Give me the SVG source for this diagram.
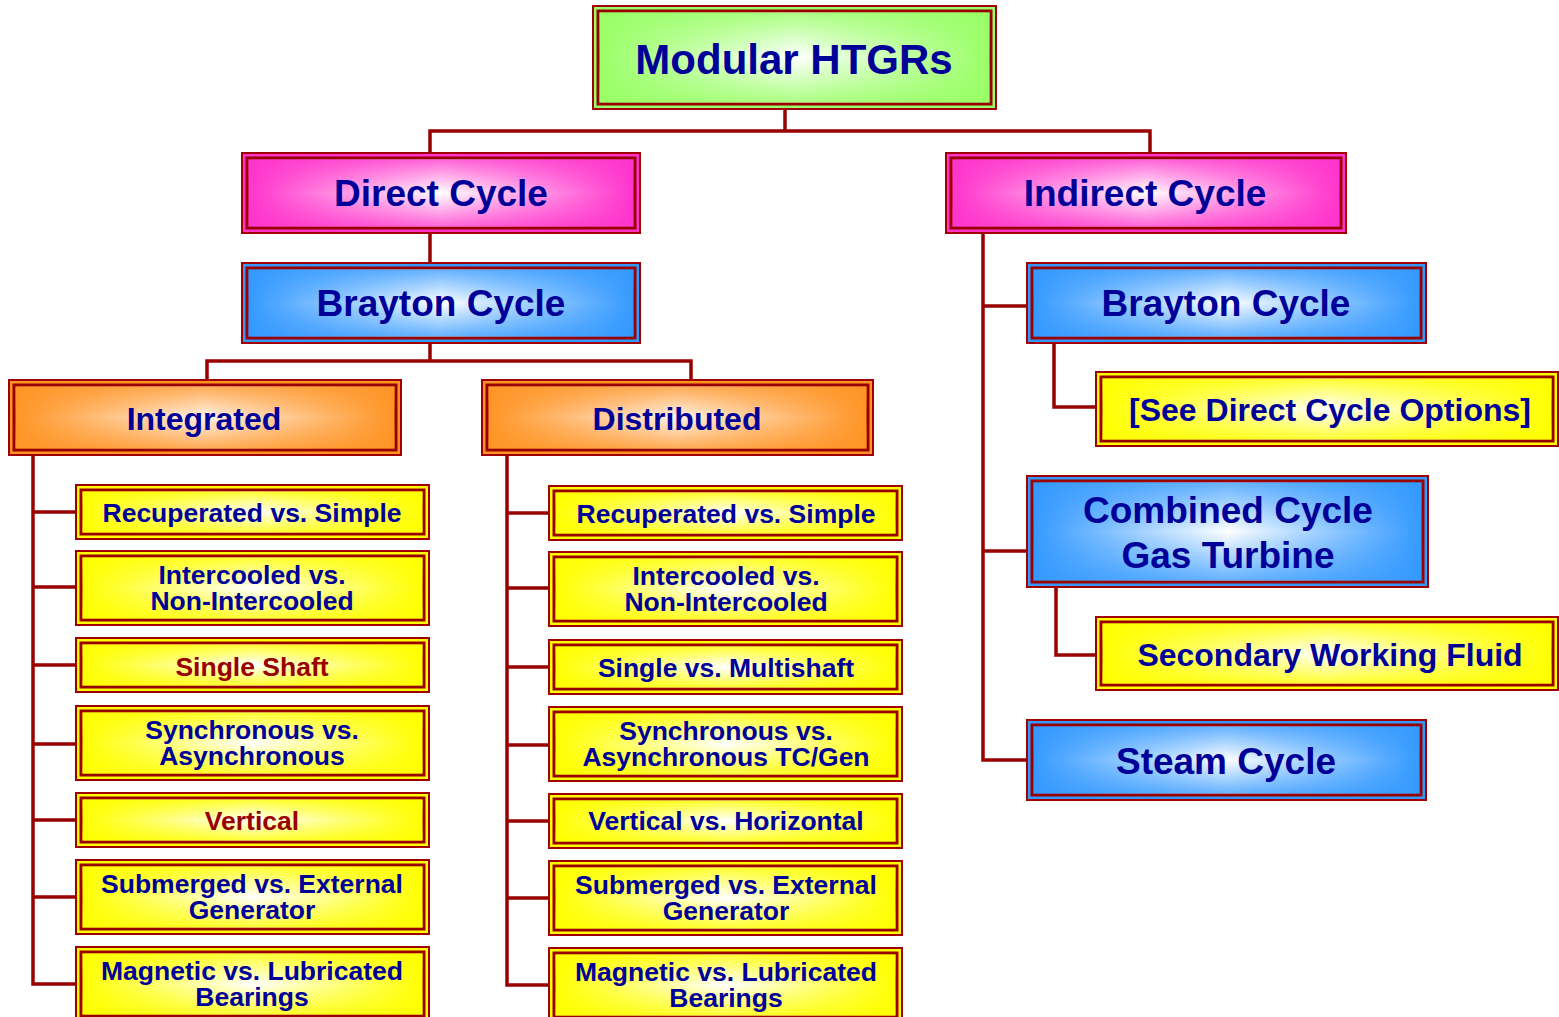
<svg xmlns="http://www.w3.org/2000/svg" width="1559" height="1017" viewBox="0 0 1559 1017">
<defs>
<linearGradient id="hGreen" x1="0" y1="0" x2="1" y2="0"><stop offset="0" stop-color="#99FF66"/><stop offset="0.5" stop-color="#FFFFFF"/><stop offset="1" stop-color="#99FF66"/></linearGradient>
<linearGradient id="vGreen" x1="0" y1="0" x2="0" y2="1"><stop offset="0" stop-color="#99FF66" stop-opacity="0.8"/><stop offset="0.5" stop-color="#99FF66" stop-opacity="0"/><stop offset="1" stop-color="#99FF66" stop-opacity="0.8"/></linearGradient>
<linearGradient id="hPink" x1="0" y1="0" x2="1" y2="0"><stop offset="0" stop-color="#FF33CC"/><stop offset="0.5" stop-color="#FFFFFF"/><stop offset="1" stop-color="#FF33CC"/></linearGradient>
<linearGradient id="vPink" x1="0" y1="0" x2="0" y2="1"><stop offset="0" stop-color="#FF33CC" stop-opacity="0.75"/><stop offset="0.5" stop-color="#FF33CC" stop-opacity="0"/><stop offset="1" stop-color="#FF33CC" stop-opacity="0.75"/></linearGradient>
<linearGradient id="hBlue" x1="0" y1="0" x2="1" y2="0"><stop offset="0" stop-color="#3399FF"/><stop offset="0.5" stop-color="#FFFFFF"/><stop offset="1" stop-color="#3399FF"/></linearGradient>
<linearGradient id="vBlue" x1="0" y1="0" x2="0" y2="1"><stop offset="0" stop-color="#3399FF" stop-opacity="0.75"/><stop offset="0.5" stop-color="#3399FF" stop-opacity="0"/><stop offset="1" stop-color="#3399FF" stop-opacity="0.75"/></linearGradient>
<linearGradient id="hOrange" x1="0" y1="0" x2="1" y2="0"><stop offset="0" stop-color="#FF9424"/><stop offset="0.5" stop-color="#FFF4EA"/><stop offset="1" stop-color="#FF9424"/></linearGradient>
<linearGradient id="vOrange" x1="0" y1="0" x2="0" y2="1"><stop offset="0" stop-color="#FF9424" stop-opacity="0.75"/><stop offset="0.5" stop-color="#FF9424" stop-opacity="0"/><stop offset="1" stop-color="#FF9424" stop-opacity="0.75"/></linearGradient>
<linearGradient id="hYellow" x1="0" y1="0" x2="1" y2="0"><stop offset="0" stop-color="#FFFF00"/><stop offset="0.5" stop-color="#FFFFFF"/><stop offset="1" stop-color="#FFFF00"/></linearGradient>
<linearGradient id="vYellow" x1="0" y1="0" x2="0" y2="1"><stop offset="0" stop-color="#FFFF00" stop-opacity="0.8"/><stop offset="0.5" stop-color="#FFFF00" stop-opacity="0"/><stop offset="1" stop-color="#FFFF00" stop-opacity="0.8"/></linearGradient>
</defs>
<style>
.outer{stroke:#A00000;stroke-width:2}
.inner{stroke:#990000;stroke-width:3}
.ov{stroke:none}
.green .outer{fill:#99FF66}.green .inner{fill:url(#hGreen)}.green .ov{fill:url(#vGreen)}
.pink .outer{fill:#FF33CC}.pink .inner{fill:url(#hPink)}.pink .ov{fill:url(#vPink)}
.blue .outer{fill:#3399FF}.blue .inner{fill:url(#hBlue)}.blue .ov{fill:url(#vBlue)}
.orange .outer{fill:#FF9424}.orange .inner{fill:url(#hOrange)}.orange .ov{fill:url(#vOrange)}
.yellow .outer{fill:#FFFF00}.yellow .inner{fill:url(#hYellow)}.yellow .ov{fill:url(#vYellow)}
text{font-family:"Liberation Sans",Arial,sans-serif;font-weight:bold;fill:#000099;text-anchor:middle}
.t42{font-size:42px}.t37{font-size:37px}.t32{font-size:32px}.t26{font-size:26.5px}
text.red{fill:#990000}
.conn{stroke:#990000;stroke-width:3.5;fill:none;stroke-linecap:square;stroke-linejoin:miter}
</style>
<g id="connectors" class="conn">
<path d="M785,109 V131 M430,153 V131 H1150 V153"/>
<path d="M430,233 V263"/>
<path d="M430,343 V361 M207,380 V361 H691 V380"/>
<path d="M33,455 V984 M33,512 H76 M33,587 H76 M33,665 H76 M33,744 H76 M33,820 H76 M33,897 H76 M33,984 H76"/>
<path d="M507,455 V985 M507,513 H549 M507,588 H549 M507,667 H549 M507,745 H549 M507,821 H549 M507,898 H549 M507,985 H549"/>
<path d="M983,233 V760 H1027 M983,306 H1027 M983,551 H1027"/>
<path d="M1054,343 V407 H1096"/>
<path d="M1056,587 V655 H1096"/>
</g>
<g id="modular-htgrs" class="green"><rect class="outer" x="593" y="6" width="403" height="103"/><rect class="inner" x="598" y="11" width="393" height="93"/><rect class="ov" x="599.5" y="12.5" width="390" height="90"/><text class="t42" x="794" y="74">Modular HTGRs</text></g>
<g id="direct-cycle" class="pink"><rect class="outer" x="242" y="153" width="398" height="80"/><rect class="inner" x="247" y="158" width="388" height="70"/><rect class="ov" x="248.5" y="159.5" width="385" height="67"/><text class="t37" x="441" y="206">Direct Cycle</text></g>
<g id="indirect-cycle" class="pink"><rect class="outer" x="946" y="153" width="400" height="80"/><rect class="inner" x="951" y="158" width="390" height="70"/><rect class="ov" x="952.5" y="159.5" width="387" height="67"/><text class="t37" x="1145" y="206">Indirect Cycle</text></g>
<g id="brayton-direct" class="blue"><rect class="outer" x="242" y="263" width="398" height="80"/><rect class="inner" x="247" y="268" width="388" height="70"/><rect class="ov" x="248.5" y="269.5" width="385" height="67"/><text class="t37" x="441" y="316">Brayton Cycle</text></g>
<g id="brayton-indirect" class="blue"><rect class="outer" x="1027" y="263" width="399" height="80"/><rect class="inner" x="1032" y="268" width="389" height="70"/><rect class="ov" x="1033.5" y="269.5" width="386" height="67"/><text class="t37" x="1226" y="316">Brayton Cycle</text></g>
<g id="integrated" class="orange"><rect class="outer" x="9" y="380" width="392" height="75"/><rect class="inner" x="14" y="385" width="382" height="65"/><rect class="ov" x="15.5" y="386.5" width="379" height="62"/><text class="t32" x="204" y="430">Integrated</text></g>
<g id="distributed" class="orange"><rect class="outer" x="482" y="380" width="391" height="75"/><rect class="inner" x="487" y="385" width="381" height="65"/><rect class="ov" x="488.5" y="386.5" width="378" height="62"/><text class="t32" x="677" y="430">Distributed</text></g>
<g id="i-recuperated" class="yellow"><rect class="outer" x="76" y="485" width="353" height="54"/><rect class="inner" x="81" y="490" width="343" height="44"/><rect class="ov" x="82.5" y="491.5" width="340" height="41"/><text class="t26" x="252" y="522">Recuperated vs. Simple</text></g>
<g id="i-intercooled" class="yellow"><rect class="outer" x="76" y="551" width="353" height="74"/><rect class="inner" x="81" y="556" width="343" height="64"/><rect class="ov" x="82.5" y="557.5" width="340" height="61"/><text class="t26" x="252" y="584">Intercooled vs.<tspan x="252" dy="26">Non-Intercooled</tspan></text></g>
<g id="i-single-shaft" class="yellow"><rect class="outer" x="76" y="638" width="353" height="54"/><rect class="inner" x="81" y="643" width="343" height="44"/><rect class="ov" x="82.5" y="644.5" width="340" height="41"/><text class="t26 red" x="252" y="676">Single Shaft</text></g>
<g id="i-synchronous" class="yellow"><rect class="outer" x="76" y="706" width="353" height="74"/><rect class="inner" x="81" y="711" width="343" height="64"/><rect class="ov" x="82.5" y="712.5" width="340" height="61"/><text class="t26" x="252" y="739">Synchronous vs.<tspan x="252" dy="26">Asynchronous</tspan></text></g>
<g id="i-vertical" class="yellow"><rect class="outer" x="76" y="793" width="353" height="54"/><rect class="inner" x="81" y="798" width="343" height="44"/><rect class="ov" x="82.5" y="799.5" width="340" height="41"/><text class="t26 red" x="252" y="830">Vertical</text></g>
<g id="i-submerged" class="yellow"><rect class="outer" x="76" y="860" width="353" height="74"/><rect class="inner" x="81" y="865" width="343" height="64"/><rect class="ov" x="82.5" y="866.5" width="340" height="61"/><text class="t26" x="252" y="893">Submerged vs. External<tspan x="252" dy="26">Generator</tspan></text></g>
<g id="i-magnetic" class="yellow"><rect class="outer" x="76" y="947" width="353" height="74"/><rect class="inner" x="81" y="952" width="343" height="64"/><rect class="ov" x="82.5" y="953.5" width="340" height="61"/><text class="t26" x="252" y="980">Magnetic vs. Lubricated<tspan x="252" dy="26">Bearings</tspan></text></g>
<g id="d-recuperated" class="yellow"><rect class="outer" x="549" y="486" width="353" height="54"/><rect class="inner" x="554" y="491" width="343" height="44"/><rect class="ov" x="555.5" y="492.5" width="340" height="41"/><text class="t26" x="726" y="523">Recuperated vs. Simple</text></g>
<g id="d-intercooled" class="yellow"><rect class="outer" x="549" y="552" width="353" height="74"/><rect class="inner" x="554" y="557" width="343" height="64"/><rect class="ov" x="555.5" y="558.5" width="340" height="61"/><text class="t26" x="726" y="585">Intercooled vs.<tspan x="726" dy="26">Non-Intercooled</tspan></text></g>
<g id="d-single-multishaft" class="yellow"><rect class="outer" x="549" y="640" width="353" height="54"/><rect class="inner" x="554" y="645" width="343" height="44"/><rect class="ov" x="555.5" y="646.5" width="340" height="41"/><text class="t26" x="726" y="677">Single vs. Multishaft</text></g>
<g id="d-synchronous" class="yellow"><rect class="outer" x="549" y="707" width="353" height="74"/><rect class="inner" x="554" y="712" width="343" height="64"/><rect class="ov" x="555.5" y="713.5" width="340" height="61"/><text class="t26" x="726" y="740">Synchronous vs.<tspan x="726" dy="26">Asynchronous TC/Gen</tspan></text></g>
<g id="d-vertical" class="yellow"><rect class="outer" x="549" y="794" width="353" height="54"/><rect class="inner" x="554" y="799" width="343" height="44"/><rect class="ov" x="555.5" y="800.5" width="340" height="41"/><text class="t26" x="726" y="830">Vertical vs. Horizontal</text></g>
<g id="d-submerged" class="yellow"><rect class="outer" x="549" y="861" width="353" height="74"/><rect class="inner" x="554" y="866" width="343" height="64"/><rect class="ov" x="555.5" y="867.5" width="340" height="61"/><text class="t26" x="726" y="894">Submerged vs. External<tspan x="726" dy="26">Generator</tspan></text></g>
<g id="d-magnetic" class="yellow"><rect class="outer" x="549" y="948" width="353" height="74"/><rect class="inner" x="554" y="953" width="343" height="64"/><rect class="ov" x="555.5" y="954.5" width="340" height="61"/><text class="t26" x="726" y="981">Magnetic vs. Lubricated<tspan x="726" dy="26">Bearings</tspan></text></g>
<g id="see-direct" class="yellow"><rect class="outer" x="1096" y="372" width="462" height="74"/><rect class="inner" x="1101" y="377" width="452" height="64"/><rect class="ov" x="1102.5" y="378.5" width="449" height="61"/><text class="t32" x="1330" y="421">[See Direct Cycle Options]</text></g>
<g id="combined-cycle" class="blue"><rect class="outer" x="1027" y="476" width="401" height="111"/><rect class="inner" x="1032" y="481" width="391" height="101"/><rect class="ov" x="1033.5" y="482.5" width="388" height="98"/><text class="t37" x="1228" y="523">Combined Cycle<tspan x="1228" dy="45">Gas Turbine</tspan></text></g>
<g id="secondary-fluid" class="yellow"><rect class="outer" x="1096" y="617" width="462" height="73"/><rect class="inner" x="1101" y="622" width="452" height="63"/><rect class="ov" x="1102.5" y="623.5" width="449" height="60"/><text class="t32" x="1330" y="666">Secondary Working Fluid</text></g>
<g id="steam-cycle" class="blue"><rect class="outer" x="1027" y="720" width="399" height="80"/><rect class="inner" x="1032" y="725" width="389" height="70"/><rect class="ov" x="1033.5" y="726.5" width="386" height="67"/><text class="t37" x="1226" y="774">Steam Cycle</text></g>
</svg>
